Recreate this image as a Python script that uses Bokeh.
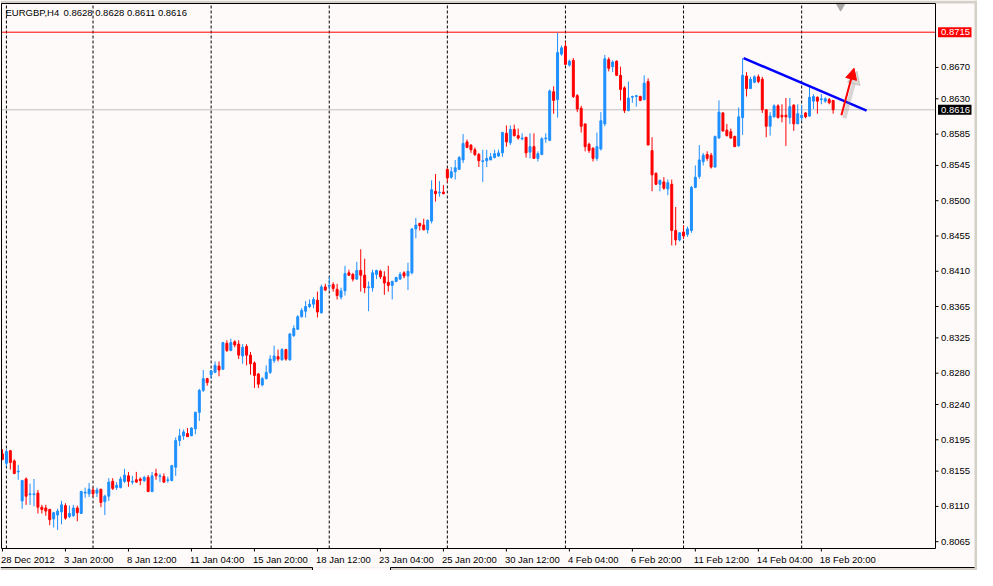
from bokeh.plotting import figure
from bokeh.models import Range1d, ColumnDataSource, Arrow, NormalHead
from bokeh.core.properties import value
from bokeh.embed import file_html
from bokeh.resources import INLINE

# ---------------- data (EURGBP, H4 bars, index = bar number) ----------------
SYMBOL = "EURGBP,H4"

open_ = [
    0.8177, 0.8165, 0.8181, 0.8168, 0.8154, 0.8117, 0.8145, 0.8125, 0.8125, 0.8127,
    0.8109, 0.8108, 0.8106, 0.8094, 0.8099, 0.8103, 0.8111, 0.8097, 0.8098, 0.8108,
    0.8101, 0.8127, 0.8126, 0.8131, 0.8127, 0.8132, 0.8116, 0.8123, 0.8142, 0.8134,
    0.8134, 0.8142, 0.8149, 0.8141, 0.8144, 0.8145, 0.8143, 0.8147, 0.8129, 0.8152,
    0.8148, 0.8148, 0.8143, 0.8143, 0.8160, 0.8194, 0.8200, 0.8203, 0.8200, 0.8209,
    0.8230, 0.8258, 0.8273, 0.8278, 0.8281, 0.8289, 0.8285, 0.8318, 0.8309, 0.8320,
    0.8317, 0.8302, 0.8314, 0.8303, 0.8293, 0.8279, 0.8265, 0.8273, 0.8281, 0.8296,
    0.8301, 0.8297, 0.8310, 0.8297, 0.8328, 0.8336, 0.8352, 0.8359, 0.8365, 0.8368,
    0.8373, 0.8357, 0.8390, 0.8391, 0.8393, 0.8387, 0.8377, 0.8385, 0.8408, 0.8406,
    0.8400, 0.8411, 0.8405, 0.8389, 0.8389, 0.8406, 0.8410, 0.8403, 0.8396, 0.8392,
    0.8397, 0.8400, 0.8408, 0.8404, 0.8408, 0.8464, 0.8471, 0.8469, 0.8463, 0.8474,
    0.8512, 0.8510, 0.8511, 0.8540, 0.8530, 0.8537, 0.8540, 0.8552, 0.8575, 0.8571,
    0.8565, 0.8559, 0.8550, 0.8551, 0.8552, 0.8555, 0.8557, 0.8561, 0.8586, 0.8574,
    0.8591, 0.8583, 0.8579, 0.8581, 0.8562, 0.8569, 0.8554, 0.8559, 0.8579, 0.8577,
    0.8639, 0.8629, 0.8687, 0.8697, 0.8673, 0.8679, 0.8634, 0.8618, 0.8598, 0.8572,
    0.8567, 0.8554, 0.8566, 0.8598, 0.8680, 0.8671, 0.8678, 0.8660, 0.8644, 0.8615,
    0.8632, 0.8633, 0.8633, 0.8629, 0.8652, 0.8564, 0.8535, 0.8521, 0.8524, 0.8515,
    0.8521, 0.8462, 0.8450, 0.8460, 0.8457, 0.8462, 0.8517, 0.8531, 0.8550, 0.8559,
    0.8558, 0.8543, 0.8580, 0.8612, 0.8590, 0.8588, 0.8582, 0.8570, 0.8606, 0.8659,
    0.8643, 0.8651, 0.8658, 0.8655, 0.8616, 0.8595, 0.8607, 0.8621, 0.8609, 0.8609,
    0.8606, 0.8622, 0.8598, 0.8606, 0.8612, 0.8608, 0.8627, 0.8632, 0.8629, 0.8627,
    0.8629, 0.8628,
]

high = [
    0.8183, 0.8183, 0.8182, 0.8170, 0.8163, 0.8144, 0.8147, 0.8139, 0.8145, 0.8131,
    0.8112, 0.8112, 0.8107, 0.8103, 0.8107, 0.8117, 0.8114, 0.8111, 0.8112, 0.8111,
    0.8130, 0.8134, 0.8140, 0.8134, 0.8134, 0.8132, 0.8125, 0.8146, 0.8146, 0.8141,
    0.8148, 0.8158, 0.8154, 0.8149, 0.8154, 0.8147, 0.8149, 0.8150, 0.8154, 0.8158,
    0.8152, 0.8152, 0.8148, 0.8163, 0.8198, 0.8209, 0.8208, 0.8210, 0.8211, 0.8231,
    0.8260, 0.8284, 0.8274, 0.8284, 0.8295, 0.8295, 0.8320, 0.8322, 0.8324, 0.8322,
    0.8322, 0.8317, 0.8317, 0.8307, 0.8295, 0.8280, 0.8275, 0.8290, 0.8303, 0.8315,
    0.8310, 0.8312, 0.8311, 0.8331, 0.8341, 0.8354, 0.8363, 0.8372, 0.8374, 0.8377,
    0.8384, 0.8393, 0.8394, 0.8403, 0.8396, 0.8394, 0.8389, 0.8417, 0.8412, 0.8408,
    0.8422, 0.8438, 0.8426, 0.8397, 0.8412, 0.8412, 0.8412, 0.8410, 0.8417, 0.8398,
    0.8403, 0.8409, 0.8410, 0.8421, 0.8465, 0.8478, 0.8472, 0.8477, 0.8476, 0.8526,
    0.8534, 0.8525, 0.8520, 0.8541, 0.8543, 0.8552, 0.8557, 0.8585, 0.8578, 0.8572,
    0.8568, 0.8561, 0.8565, 0.8565, 0.8561, 0.8565, 0.8565, 0.8588, 0.8596, 0.8596,
    0.8597, 0.8592, 0.8586, 0.8581, 0.8586, 0.8586, 0.8563, 0.8581, 0.8586, 0.8642,
    0.8646, 0.8714, 0.8698, 0.8703, 0.8680, 0.8682, 0.8636, 0.8621, 0.8598, 0.8574,
    0.8568, 0.8587, 0.8613, 0.8686, 0.8683, 0.8679, 0.8679, 0.8671, 0.8646, 0.8652,
    0.8634, 0.8635, 0.8634, 0.8660, 0.8656, 0.8581, 0.8536, 0.8527, 0.8530, 0.8527,
    0.8527, 0.8492, 0.8460, 0.8469, 0.8467, 0.8519, 0.8545, 0.8571, 0.8561, 0.8563,
    0.8561, 0.8583, 0.8628, 0.8613, 0.8598, 0.8592, 0.8583, 0.8619, 0.8682, 0.8664,
    0.8658, 0.8660, 0.8661, 0.8658, 0.8617, 0.8613, 0.8623, 0.8623, 0.8623, 0.8631,
    0.8631, 0.8623, 0.8623, 0.8622, 0.8613, 0.8646, 0.8636, 0.8633, 0.8636, 0.8632,
    0.8631, 0.8628,
]

low = [
    0.8169, 0.8161, 0.8157, 0.8151, 0.8144, 0.8107, 0.8112, 0.8112, 0.8110, 0.8101,
    0.8101, 0.8098, 0.8086, 0.8083, 0.8080, 0.8087, 0.8093, 0.8095, 0.8097, 0.8091,
    0.8101, 0.8121, 0.8122, 0.8122, 0.8122, 0.8109, 0.8099, 0.8117, 0.8131, 0.8131,
    0.8133, 0.8140, 0.8135, 0.8138, 0.8140, 0.8137, 0.8141, 0.8128, 0.8128, 0.8144,
    0.8141, 0.8140, 0.8140, 0.8142, 0.8149, 0.8187, 0.8195, 0.8199, 0.8200, 0.8202,
    0.8219, 0.8256, 0.8264, 0.8273, 0.8280, 0.8276, 0.8284, 0.8307, 0.8308, 0.8313,
    0.8298, 0.8292, 0.8290, 0.8278, 0.8261, 0.8261, 0.8263, 0.8272, 0.8279, 0.8293,
    0.8295, 0.8296, 0.8296, 0.8296, 0.8326, 0.8335, 0.8351, 0.8351, 0.8363, 0.8363,
    0.8351, 0.8356, 0.8385, 0.8386, 0.8384, 0.8374, 0.8374, 0.8379, 0.8404, 0.8397,
    0.8399, 0.8384, 0.8382, 0.8359, 0.8384, 0.8400, 0.8400, 0.8380, 0.8384, 0.8374,
    0.8396, 0.8399, 0.8401, 0.8386, 0.8406, 0.8452, 0.8462, 0.8462, 0.8458, 0.8471,
    0.8499, 0.8505, 0.8508, 0.8523, 0.8528, 0.8527, 0.8539, 0.8548, 0.8567, 0.8561,
    0.8557, 0.8543, 0.8524, 0.8543, 0.8552, 0.8554, 0.8556, 0.8556, 0.8569, 0.8571,
    0.8582, 0.8578, 0.8577, 0.8555, 0.8554, 0.8554, 0.8550, 0.8558, 0.8574, 0.8576,
    0.8611, 0.8606, 0.8685, 0.8673, 0.8671, 0.8631, 0.8613, 0.8587, 0.8563, 0.8561,
    0.8550, 0.8551, 0.8564, 0.8595, 0.8665, 0.8664, 0.8659, 0.8628, 0.8612, 0.8614,
    0.8625, 0.8620, 0.8627, 0.8628, 0.8571, 0.8512, 0.8520, 0.8512, 0.8514, 0.8507,
    0.8443, 0.8443, 0.8448, 0.8451, 0.8454, 0.8459, 0.8516, 0.8528, 0.8545, 0.8551,
    0.8541, 0.8542, 0.8579, 0.8588, 0.8582, 0.8579, 0.8569, 0.8569, 0.8584, 0.8633,
    0.8643, 0.8650, 0.8650, 0.8612, 0.8581, 0.8583, 0.8606, 0.8605, 0.8600, 0.8570,
    0.8598, 0.8589, 0.8598, 0.8602, 0.8605, 0.8607, 0.8617, 0.8611, 0.8623, 0.8625,
    0.8623, 0.8611,
]

close = [
    0.8170, 0.8180, 0.8166, 0.8152, 0.8155, 0.8143, 0.8123, 0.8126, 0.8126, 0.8109,
    0.8106, 0.8104, 0.8093, 0.8102, 0.8104, 0.8112, 0.8095, 0.8101, 0.8108, 0.8102,
    0.8129, 0.8128, 0.8132, 0.8126, 0.8131, 0.8115, 0.8123, 0.8141, 0.8133, 0.8137,
    0.8145, 0.8150, 0.8142, 0.8142, 0.8141, 0.8143, 0.8147, 0.8129, 0.8149, 0.8149,
    0.8149, 0.8141, 0.8144, 0.8162, 0.8194, 0.8200, 0.8205, 0.8199, 0.8210, 0.8230,
    0.8258, 0.8273, 0.8268, 0.8283, 0.8290, 0.8284, 0.8319, 0.8309, 0.8319, 0.8316,
    0.8303, 0.8313, 0.8303, 0.8292, 0.8277, 0.8266, 0.8273, 0.8281, 0.8298, 0.8302,
    0.8298, 0.8310, 0.8298, 0.8330, 0.8337, 0.8352, 0.8360, 0.8365, 0.8368, 0.8374,
    0.8358, 0.8390, 0.8386, 0.8392, 0.8388, 0.8379, 0.8385, 0.8407, 0.8405, 0.8400,
    0.8411, 0.8405, 0.8389, 0.8390, 0.8408, 0.8411, 0.8403, 0.8395, 0.8392, 0.8397,
    0.8402, 0.8406, 0.8404, 0.8410, 0.8464, 0.8469, 0.8468, 0.8463, 0.8475, 0.8514,
    0.8509, 0.8511, 0.8509, 0.8529, 0.8537, 0.8542, 0.8555, 0.8573, 0.8568, 0.8565,
    0.8559, 0.8551, 0.8551, 0.8554, 0.8556, 0.8560, 0.8561, 0.8587, 0.8575, 0.8591,
    0.8583, 0.8580, 0.8580, 0.8561, 0.8569, 0.8554, 0.8560, 0.8579, 0.8580, 0.8640,
    0.8628, 0.8689, 0.8695, 0.8674, 0.8678, 0.8633, 0.8617, 0.8595, 0.8569, 0.8564,
    0.8554, 0.8569, 0.8602, 0.8681, 0.8669, 0.8677, 0.8660, 0.8642, 0.8615, 0.8631,
    0.8633, 0.8634, 0.8628, 0.8650, 0.8571, 0.8533, 0.8521, 0.8526, 0.8516, 0.8523,
    0.8462, 0.8450, 0.8459, 0.8455, 0.8464, 0.8517, 0.8530, 0.8552, 0.8558, 0.8554,
    0.8543, 0.8582, 0.8613, 0.8589, 0.8583, 0.8580, 0.8569, 0.8607, 0.8660, 0.8643,
    0.8655, 0.8658, 0.8652, 0.8616, 0.8595, 0.8608, 0.8621, 0.8606, 0.8607, 0.8607,
    0.8620, 0.8598, 0.8611, 0.8609, 0.8607, 0.8632, 0.8633, 0.8627, 0.8630, 0.8630,
    0.8625, 0.8616,
]

price_ticks = [0.8065, 0.8110, 0.8155, 0.8195, 0.8240, 0.8280, 0.8325, 0.8365,
               0.8410, 0.8455, 0.8500, 0.8545, 0.8585, 0.8630, 0.8670]
time_tick_bars = [0, 16, 32, 48, 64, 80, 96, 112, 128, 144, 160, 176, 192, 208]
time_tick_labels = ["28 Dec 2012", "3 Jan 20:00", "8 Jan 12:00", "11 Jan 04:00",
                    "15 Jan 20:00", "18 Jan 12:00", "23 Jan 04:00", "25 Jan 20:00",
                    "30 Jan 12:00", "4 Feb 04:00", "6 Feb 20:00", "11 Feb 12:00",
                    "14 Feb 04:00", "18 Feb 20:00"]
week_start_bars = [1, 23, 53, 83, 113, 143, 173, 203]

marked_level = 0.8715
trend_x = [188.25, 219.5]
trend_y = [0.8682, 0.8615]
arrow_x = [213.1, 216.3]
arrow_y = [0.8609, 0.8669]
shift_marker_x = [212.9]
shift_marker_y = [0.87485]

# ---------------- geometry / styling ----------------
W, H = 977, 570
BORDER_L, BORDER_R, BORDER_T, BORDER_B = 1, 42, 3, 22   # price scale right, time scale below
FRAME_W = W - BORDER_L - BORDER_R
FRAME_H = H - BORDER_T - BORDER_B
X0, X1 = -0.25, 237.0              # bar range of the chart window
Y0, Y1 = 0.80563, 0.87516          # price range of the chart window
PX_X = FRAME_W / (X1 - X0)         # pixels per bar
PX_Y = FRAME_H / (Y1 - Y0)         # pixels per price unit


def dx(px):
    return px / PX_X


def dy(px):
    return px / PX_Y


BG = "#FFFAFA"
GRAY = "#D4D0C8"
UP = "#1E90FF"
DOWN = "#FF0000"
FONT = "Liberation Sans"
FS = "9.5px"

XL, XR = X0 - dx(BORDER_L), X1 + dx(BORDER_R)
YB, YT = Y0 - dy(BORDER_B), Y1 + dy(BORDER_T)

p = figure(width=W, height=H, output_backend="svg", toolbar_location=None,
           x_range=Range1d(XL, XR), y_range=Range1d(YB, YT),
           x_axis_location=None, y_axis_location=None, min_border=0,
           background_fill_color=BG, border_fill_color=BG)
p.grid.visible = False
p.outline_line_color = None

# window chrome: grey strips (top, right, bottom) with the tab strip line
TAB_L, TAB_R = X0 + dx(311), X0 + dx(389)
p.quad(left=[XL, XR - dx(3), XL], right=[XR, XR, XR],
       bottom=[Y1, YB, YB], top=[YT, YT, YB + dy(3)],
       fill_color=GRAY, line_color=None)
p.quad(left=[TAB_L], right=[TAB_R], bottom=[YB], top=[YB + dy(3)],
       fill_color=BG, line_color=None)
p.segment(x0=[XL, TAB_R, TAB_L, TAB_R], y0=[YB + dy(3), YB + dy(3), YB + dy(3), YB + dy(3)],
          x1=[TAB_L, XR - dx(3), TAB_L, TAB_R], y1=[YB + dy(3), YB + dy(3), YB, YB],
          line_color="black", line_width=1)

# period separators and horizontal levels
p.segment(x0=week_start_bars, y0=[Y0] * len(week_start_bars),
          x1=week_start_bars, y1=[Y1] * len(week_start_bars),
          line_color="black", line_dash="3 2", line_width=1)
p.segment(x0=[X0, X0], y0=[marked_level, close[-1]], x1=[X1, X1], y1=[marked_level, close[-1]],
          line_color=["#FF0000", "#C0C0C0"], line_width=1)

# candles
bars = list(range(len(open_)))
colors = [UP if c >= o else DOWN for o, c in zip(open_, close)]
src = ColumnDataSource(dict(
    x=bars, high=high, low=low,
    top=[max(o, c) for o, c in zip(open_, close)],
    bottom=[min(o, c) for o, c in zip(open_, close)],
    color=colors))
p.segment(x0="x", y0="high", x1="x", y1="low", line_color="color", line_width=1, source=src)
p.vbar(x="x", width=0.5, top="top", bottom="bottom", fill_color="color",
       line_color="color", line_width=1, source=src)

# trend line
p.line(trend_x, trend_y, line_color="#0000FF", line_width=2.5)

# arrow with soft shadow
p.add_layout(Arrow(end=NormalHead(size=13, fill_color="#808080", line_color="#808080",
                                  fill_alpha=0.3, line_alpha=0.3),
                   x_start=arrow_x[0] + dx(3), y_start=arrow_y[0] - dy(3),
                   x_end=arrow_x[1] + dx(3), y_end=arrow_y[1] - dy(3),
                   line_color="#808080", line_alpha=0.3, line_width=4))
p.add_layout(Arrow(end=NormalHead(size=11, fill_color="#FF0000", line_color="#FF0000"),
                   x_start=arrow_x[0], y_start=arrow_y[0],
                   x_end=arrow_x[1], y_end=arrow_y[1],
                   line_color="#FF0000", line_width=2))

# chart-shift marker
p.scatter(shift_marker_x, shift_marker_y, marker="inverted_triangle", size=9,
          fill_color="#A8A8A8", line_color="#A8A8A8")

# chart window border
p.quad(left=[X0], right=[X1], bottom=[Y0], top=[Y1], fill_color=None,
       line_color="black", line_width=1)

# price scale (right): ticks and labels
p.segment(x0=[X1] * len(price_ticks), y0=price_ticks,
          x1=[X1 + dx(3)] * len(price_ticks), y1=price_ticks,
          line_color="black", line_width=1)
p.text(x=[X1 + dx(5.5)] * len(price_ticks), y=price_ticks,
       text=[f"{t:.4f}" for t in price_ticks],
       text_font=value(FONT), text_font_size=value(FS), text_color="black",
       text_align="left", text_baseline="middle")

# price boxes: marked level (red) and current bid (black)
box_levels = [marked_level, close[-1]]
p.quad(left=[X1 + dx(2.5)] * 2, right=[X1 + dx(36)] * 2,
       bottom=[v - dy(5) for v in box_levels], top=[v + dy(5) for v in box_levels],
       fill_color=["#FF0000", "#000000"], line_color=None)
p.text(x=[X1 + dx(5.5)] * 2, y=box_levels, text=[f"{v:.4f}" for v in box_levels],
       text_font=value(FONT), text_font_size=value(FS), text_color="white",
       text_align="left", text_baseline="middle")

# time scale (below): ticks and left-aligned labels
p.segment(x0=time_tick_bars, y0=[Y0] * len(time_tick_bars),
          x1=time_tick_bars, y1=[Y0 - dy(3)] * len(time_tick_bars),
          line_color="black", line_width=1)
p.text(x=time_tick_bars, y=[Y0 - dy(10.5)] * len(time_tick_bars), text=time_tick_labels,
       x_offset=-1.5, text_font=value(FONT), text_font_size=value(FS),
       text_color="black", text_align="left", text_baseline="middle")

# title: symbol and OHLC of the last bar
p.text(x=[X0 + dx(4)], y=[Y1 - dy(9)], text=[SYMBOL],
       text_font=value(FONT), text_font_size=value(FS), text_color="black",
       text_align="left", text_baseline="middle")
p.text(x=[X0 + dx(62)], y=[Y1 - dy(9)],
       text=[f"{open_[-1]:.4f} {high[-1]:.4f} {low[-1]:.4f} {close[-1]:.4f}"],
       text_font=value(FONT), text_font_size=value(FS), text_color="black",
       text_align="left", text_baseline="middle")

open("out.html", "w").write(file_html(p, INLINE))
